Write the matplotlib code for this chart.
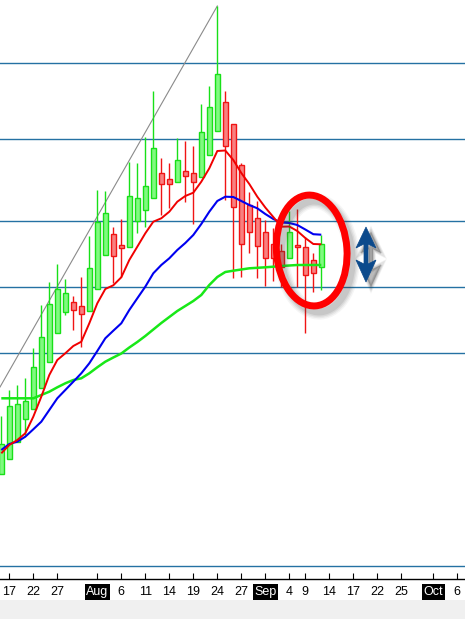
import matplotlib
matplotlib.use("Agg")
import matplotlib.pyplot as plt
from matplotlib.patches import Ellipse, Rectangle, Polygon
import numpy as np

# ---- data (price levels in chart units; axis inverted) ----
opens  = [474, 459, 441.7, 418.7, 409.3, 388.3, 362.3, 333.3, 311.7, 302.3,
          306, 310.5, 289.3, 255.3, 234.3, 245.3, 247.3, 221, 210.3, 198.3,
          173.3, 179.3, 181.7, 171.3, 173, 177.3, 155.3, 131.3, 102.3, 124.3,
          165.3, 205.3, 218.3, 231.5, 244, 251.3, 258.3, 245.3, 246.7, 260.3, 266.7]
highs  = [416, 390, 385, 378.3, 348.3, 305, 281.7, 264.3, 279.3, 296,
          276.7, 236, 190, 191, 227.3, 219.3, 162, 163.3, 136.7, 90.7,
          158.3, 163.3, 138, 141, 145.7, 104, 86, 6, 91, 124.3,
          163, 192, 201, 220, 228, 244, 210.7, 209, 236.7, 253.3, 235.3]
lows   = [474, 459, 441.7, 435, 409.3, 388.3, 362.3, 333.3, 315, 330,
          347.3, 310.5, 289.3, 255.3, 282.7, 276.7, 247.3, 233.3, 226.7, 198.3,
          215, 207.5, 181.7, 201.7, 224.3, 177.3, 155.3, 131.3, 200, 278.3,
          277, 253, 277.5, 285.5, 280.5, 286.7, 258.3, 286.7, 332.7, 291.7, 290]
closes = [444, 406, 404.3, 401, 367.3, 337.3, 304, 289.3, 293.3, 310,
          314.3, 268.3, 222, 213.3, 256.3, 248.3, 196.3, 198.3, 186.3, 148.3,
          184.3, 184.3, 160.3, 175.7, 181.7, 132.3, 107.3, 74, 145.7, 207.3,
          244.3, 231.5, 245.5, 258.2, 258, 266.7, 232.3, 247.3, 275.3, 273.3, 244.3]

ma_fast = [453.3, 445, 440, 433.3, 416.7, 396.7, 375, 360, 353.3, 346,
           341.7, 323.3, 303.3, 289, 285.3, 277.3, 260, 246.7, 233.3, 221.7,
           218.3, 211.7, 201.7, 196, 192.7, 181.7, 168.3, 151, 150.5, 160,
           173, 184, 196.7, 207.5, 217, 226.7, 226.5, 231, 238, 244, 244.3]
ma_mid  = [450, 444, 441.7, 436.7, 429.3, 421.7, 410, 398.3, 390, 381.7,
           373.3, 363.3, 351, 338.3, 330.7, 323.3, 310, 298.3, 286.7, 273.3,
           265, 258.3, 250, 243, 235, 224, 211.7, 201, 196.7, 197,
           201, 205, 208.3, 214, 219, 222.5, 223, 225, 229.5, 234.2, 234.7]
ma_slow = [398.3, 398.3, 398.3, 398.3, 398.3, 395, 391.7, 387.3, 383.3, 380,
           378.3, 373.3, 367.3, 361.7, 357.5, 353.5, 347.5, 342, 336, 329.5,
           323, 317, 311, 306, 301, 295, 285, 277, 272, 270.7,
           269.5, 268.3, 267.8, 267.3, 266.7, 266, 265.5, 265, 265, 265, 265]

levels = [63, 139, 221, 287, 353, 566]
trend_start = (-0.16, 387)
trend_end = (27, 6)

tick_pos = [1, 4, 7, 12, 15, 18, 21, 24, 27, 30, 33, 36, 38, 41, 44, 47, 50, 54, 57]
tick_labels = ['17', '22', '27', 'Aug', '6', '11', '14', '19', '24', '27', 'Sep',
               '4', '9', '14', '17', '22', '25', 'Oct', '6']
months = {'Aug', 'Sep', 'Oct'}

# ---- figure ----
W, H = 465, 619
fig = plt.figure(figsize=(W / 100, H / 100), dpi=100)
fig.patch.set_facecolor('white')
fig.patches.append(Rectangle((0, 0), 1, 19 / H, transform=fig.transFigure,
                             facecolor='#f0f0f0', edgecolor='none', zorder=0))

ax = fig.add_axes([0, 40 / H, 1, 579 / H])
ax.set_xlim(-1.3 / 8, (W - 1.3) / 8)
ax.set_ylim(579, 0)
ax.set_facecolor('white')

for lv in levels:
    ax.axhline(lv, color='#2471a3', lw=1.0, zorder=1)

ax.plot([trend_start[0], trend_end[0]], [trend_start[1], trend_end[1]],
        color='#8a8a8a', lw=0.8, zorder=2)

x = np.arange(len(opens))
bull_edge, bull_fill = '#18e018', '#80fa80'
bear_edge, bear_fill = '#f01414', '#f88080'
for i in x:
    o, h, l, c = opens[i], highs[i], lows[i], closes[i]
    bull = c < o  # axis inverted: smaller value is higher on screen
    ec = bull_edge if bull else bear_edge
    fc = bull_fill if bull else bear_fill
    ax.vlines(i, h, l, color=ec, lw=1.0, zorder=3)
    ax.bar(i, abs(o - c) if abs(o - c) > 0 else 1, bottom=min(o, c), width=0.55,
           facecolor=fc, edgecolor=ec, lw=1.0, zorder=4)

ax.plot(x, ma_slow, color='#18e818', lw=1.8, zorder=5, solid_capstyle='butt')
ax.plot(x, ma_mid, color='#0000f0', lw=1.5, zorder=6, solid_capstyle='butt')
ax.plot(x, ma_fast, color='#f00000', lw=1.4, zorder=7, solid_capstyle='butt')

for s in ['top', 'left', 'right']:
    ax.spines[s].set_visible(False)
ax.spines['bottom'].set_color('black')
ax.spines['bottom'].set_linewidth(1.0)
ax.set_yticks([])
ax.set_xticks(tick_pos)
ax.set_xticklabels(tick_labels, fontfamily='Liberation Sans', fontsize=9)
ax.tick_params(axis='x', direction='in', length=4, width=0.8, pad=5, colors='black')
for lbl in ax.get_xticklabels():
    if lbl.get_text() in months:
        lbl.set_color('white')
        lbl.set_bbox(dict(facecolor='black', edgecolor='none', pad=1.2))

# ---- overlay decorations (pixel coordinates) ----
ov = fig.add_axes([0, 0, 1, 1], facecolor='none')
ov.set_xlim(0, W)
ov.set_ylim(H, 0)
ov.axis('off')

cx, cy, ew, eh, ang = 311.7, 250.5, 70.5, 111, -4
for k, a in enumerate([0.05, 0.07, 0.09, 0.11]):
    ov.add_patch(Ellipse((cx + 5, cy + 6), ew, eh, angle=ang, fill=False,
                         edgecolor='#404040', lw=11 - 2 * k, alpha=a, zorder=8))
ov.add_patch(Ellipse((cx, cy), ew, eh, angle=ang, fill=False, edgecolor='#ff0000',
                     lw=5.0, zorder=9))

arrow_pts = np.array([(366, 227), (376, 248), (368, 244), (368, 264), (376, 260),
                      (366, 282), (356, 260), (364, 264), (364, 244), (356, 248)])
for k, a in enumerate([0.06, 0.08, 0.10, 0.12]):
    ov.add_patch(Polygon(arrow_pts + np.array([5, 5]), closed=True,
                         facecolor='#303030', edgecolor='#303030',
                         lw=4 - k, alpha=a, zorder=8))
ov.add_patch(Polygon(arrow_pts, closed=True, facecolor='#0c4a8c',
                     edgecolor='#0c4a8c', lw=0.5, zorder=9))

fig.savefig('out.png', dpi=100)
